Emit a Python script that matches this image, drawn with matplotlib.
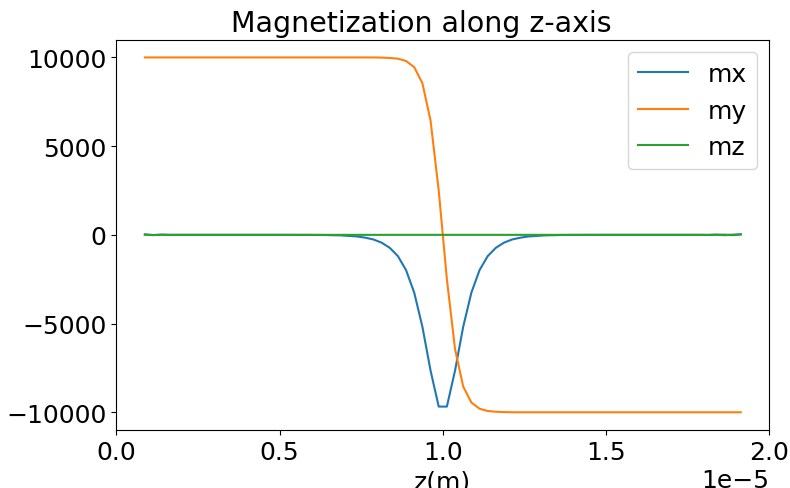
import numpy as np
import matplotlib
matplotlib.use("Agg")
import matplotlib.pyplot as plt

# grid along z (cell centres), 74 points
z = np.linspace(0.0875e-5, 1.9125e-5, 74)

# half-profiles, from the wall centre outwards
mx_half = [-9680, -7650, -5180, -3260, -1990, -1200, -730, -440, -260, -160,
           -90, -60, -30, -20, -10, -7, -4, -3, -2, -1,
           0, 0, 0, 0, 0, 0, 0, 0, 0, 0,
           0, 0, 0, 0, 10, -15, 25]
my_half = [2500, 6440, 8550, 9450, 9800, 9930, 9970, 9990, 10000, 10000,
           10000, 10000, 10000, 10000, 10000, 10000, 10000, 10000, 10000, 10000,
           10000, 10000, 10000, 10000, 10000, 10000, 10000, 10000, 10000, 10000,
           10000, 10000, 10000, 10000, 10000, 10000, 10000]

mx = mx_half[::-1] + mx_half
my = my_half[::-1] + [-v for v in my_half]
mz = [10, -10, 5, 0, 0, 0, 0, 0, 0, 0,
      0, 0, 0, 0, 0, 0, 0, 0, 0, 0,
      0, 0, 0, 0, 0, 0, 0, 0, 0, 0,
      0, 0, 0, 0, 0, 0, 0, 0, 0, 0,
      0, 0, 0, 0, 0, 0, 0, 0, 0, 0,
      0, 0, 0, 0, 0, 0, 0, 0, 0, 0,
      0, 0, 0, 0, 0, 0, 0, 0, 0, -10,
      15, -20, 10, 25]

plt.rcParams['font.size'] = 18

fig = plt.figure(figsize=(7.9, 4.89), dpi=100)
ax = fig.add_axes([0.1472, 0.1186, 0.8266, 0.7982])
ax.plot(z, mx, label='mx')
ax.plot(z, my, label='my')
ax.plot(z, mz, label='mz')
ax.set_xlim(0, 2.0e-5)
ax.set_title('Magnetization along z-axis', fontsize=20.5, x=0.467)
ax.set_xlabel('z(m)')
ax.legend(loc='upper right')

fig.savefig('out.png', dpi=100)
